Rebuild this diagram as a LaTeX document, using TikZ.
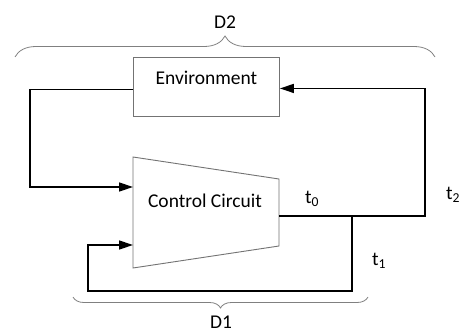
\documentclass[tikz,border=0pt]{standalone}
\usepackage{fontspec}
\setmainfont{Carlito}
\usetikzlibrary{arrows.meta, positioning, decorations.pathreplacing}

\begin{document}
\begin{tikzpicture}[x=1pt, y=-1pt,
  %--- shared styles ----------------------------------------------
  block/.style={draw=black!55, line width=0.9pt, fill=white},
  sig/.style={-{Triangle[length=14pt,width=9pt]}, line width=1.4pt},
  wire/.style={line width=1.4pt},
  brc/.style={draw=black!50, line width=0.8pt, decorate},
  lbl/.style={font=\fontsize{19.5}{23}\selectfont, inner sep=0pt},
]
\useasboundingbox (0,0) rectangle (462,334);

%% --- environment block --------------------------------------------
\node[block, minimum width=146pt, minimum height=59pt, anchor=north west]
  (env) at (133,57) {};
\node[lbl, below=14pt of env.north] (envtxt) {Environment};

%% --- control circuit (trapezoid) ------------------------------------
\coordinate (tl) at (133,157);
\coordinate (tr) at (279,179);
\coordinate (br) at (279,246);
\coordinate (bl) at (133,268);
\draw[block] (tl) -- (tr) -- (br) -- (bl) -- cycle;
\node[lbl] (cc) at (205,201) {Control Circuit};

% ports and corners of the wires
\coordinate (in1)  at (133,187);
\coordinate (in2)  at (133,245);
\coordinate (out)  at (279,216);
\coordinate (tap)  at (352,216);
\coordinate (ret)  at (425,216);
\coordinate (loop) at (88,291);

%% --- wires -----------------------------------------------------------
% environment -> control circuit
\draw[sig] ([yshift=-2.5pt]env.west) -- ++(-103,0) |- (in1);
% control circuit -> environment (outer loop)
\draw[sig] (out) -- (ret) |- ([yshift=-1.5pt]env.east);
% inner feedback loop
\draw[sig] (tap) |- (loop) |- (in2);

%% --- labels -----------------------------------------------------------
\node[lbl] (t0) at (312,199) {t\textsubscript{0}};
\node[lbl] (t1) at (379,261) {t\textsubscript{1}};
\node[lbl] (t2) at (453,195) {t\textsubscript{2}};

%% --- braces ------------------------------------------------------------
\draw[brc, decoration={brace, amplitude=21pt}] (15,57) -- (435,57);
\node[lbl] (d2) at (225,22) {D2};
\draw[brc, decoration={brace, amplitude=11pt}] (368,297) -- (73,297);
\node[lbl] (d1) at (221,322) {D1};

\end{tikzpicture}
\end{document}
